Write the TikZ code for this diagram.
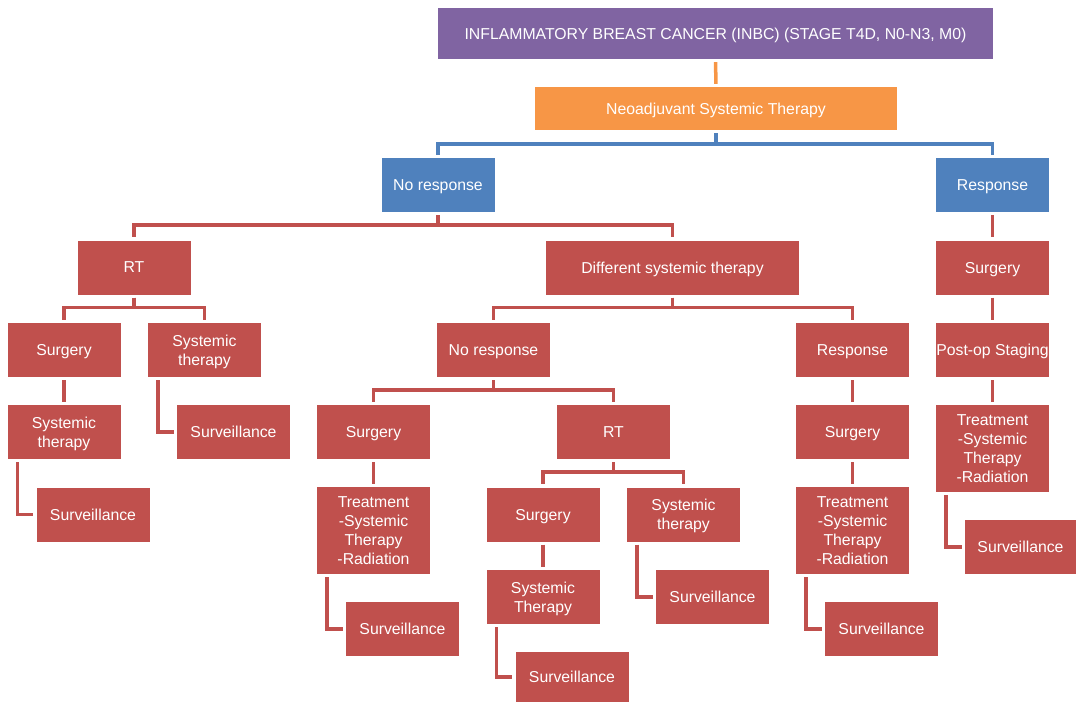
\documentclass[tikz,border=0pt]{standalone}
\usepackage{fontspec}
\setmainfont{Liberation Sans}
\definecolor{boxred}{HTML}{C0504D}
\definecolor{boxblue}{HTML}{4F81BD}
\definecolor{boxorange}{HTML}{F79646}
\definecolor{boxpurple}{HTML}{8064A2}
\tikzset{
  box/.style={fill=boxred, text=white, minimum width=113pt, minimum height=54pt,
    inner xsep=0pt, inner ysep=2pt, text depth=0pt, align=center,
    font=\fontsize{15.8}{19}\selectfont},
  tallbox/.style={box, minimum height=87pt},
  link/.style={line width=3.5pt, draw=boxred, shorten <=3pt, shorten >=3pt},
}
\begin{document}
\begin{tikzpicture}[x=1pt,y=-1pt]
\useasboundingbox (0,0) rectangle (1076,702);
% top of the tree
\node[box, fill=boxpurple, minimum width=555pt, minimum height=51pt] (inbc) at (715.5,33.5) {INFLAMMATORY BREAST CANCER (INBC) (STAGE T4D, N0-N3, M0)};
\node[box, fill=boxorange, minimum width=362pt, minimum height=43pt] (nst) at (716,108.5) {Neoadjuvant Systemic Therapy};
\node[box, fill=boxblue] (nores) at (438,185) {No response};
\node[box, fill=boxblue] (res) at (992.5,185) {Response};
\draw[link, draw=boxorange] (inbc.south) -- (nst.north);
\draw[link, draw=boxblue] (nst.south) -- ++(0,14) -| (nores.north);
\draw[link, draw=boxblue] (nst.south) -- ++(0,14) -| (res.north);
% no response branch
\node[box] (rt) at (134,267.5) {RT};
\node[box, minimum width=253pt] (dst) at (672.5,267.5) {Different systemic therapy};
\draw[link] (nores.south) -- ++(0,13) -| (rt.north);
\draw[link] (nores.south) -- ++(0,13) -| (dst.north);
% after RT
\node[box] (surga) at (64,350) {Surgery};
\node[box] (systa) at (204.5,350) {Systemic\\therapy};
\node[box] (systb) at (64,432) {Systemic\\therapy};
\node[box] (survb) at (233.5,432) {Surveillance};
\node[box] (surva) at (93,514.5) {Surveillance};
\draw[link] (rt.south) -- ++(0,13) -| (surga.north);
\draw[link] (rt.south) -- ++(0,13) -| (systa.north);
\draw[link] (surga) -- (systb);
\draw[link] ([xshift=10pt]systb.south west) |- (surva.west);
\draw[link] ([xshift=10pt]systa.south west) |- (survb.west);
% after different systemic therapy
\node[box] (nresb) at (493.5,350) {No response};
\node[box] (resb) at (852.5,350) {Response};
\draw[link] (dst.south) -- ++(0,13) -| (nresb.north);
\draw[link] (dst.south) -- ++(0,13) -| (resb.north);
\node[box] (surgc) at (373.5,432) {Surgery};
\node[box] (rtc) at (613.5,432) {RT};
\draw[link] (nresb.south) -- ++(0,13) -| (surgc.north);
\draw[link] (nresb.south) -- ++(0,13) -| (rtc.north);
\node[tallbox] (treatc) at (373.5,530.5) {Treatment\\-Systemic\\Therapy\\-Radiation};
\node[box] (survc) at (402.5,629) {Surveillance};
\draw[link] (surgc) -- (treatc);
\draw[link] ([xshift=10pt]treatc.south west) |- (survc.west);
\node[box] (surgd) at (543,514.5) {Surgery};
\node[box] (systd) at (683.5,514.5) {Systemic\\therapy};
\draw[link] (rtc.south) -- ++(0,13) -| (surgd.north);
\draw[link] (rtc.south) -- ++(0,13) -| (systd.north);
\node[box] (syste) at (543,597) {Systemic\\Therapy};
\node[box, minimum height=50pt] (surve) at (572,677) {Surveillance};
\node[box] (survd) at (712.5,597) {Surveillance};
\draw[link] (surgd) -- (syste);
\draw[link] ([xshift=10pt]syste.south west) |- (surve.west);
\draw[link] ([xshift=10pt]systd.south west) |- (survd.west);
\node[box] (surgf) at (852.5,432) {Surgery};
\node[tallbox] (treatf) at (852.5,530.5) {Treatment\\-Systemic\\Therapy\\-Radiation};
\node[box] (survf) at (881.5,629) {Surveillance};
\draw[link] (resb) -- (surgf);
\draw[link] (surgf) -- (treatf);
\draw[link] ([xshift=10pt]treatf.south west) |- (survf.west);
% response branch
\node[box] (surgg) at (992.5,267.5) {Surgery};
\node[box] (postop) at (992.5,350) {Post-op Staging};
\node[tallbox] (treatg) at (992.5,448.5) {Treatment\\-Systemic\\Therapy\\-Radiation};
\node[box, minimum width=111pt] (survg) at (1020.5,547) {Surveillance};
\draw[link] (res) -- (surgg);
\draw[link] (surgg) -- (postop);
\draw[link] (postop) -- (treatg);
\draw[link] ([xshift=10pt]treatg.south west) |- (survg.west);
\end{tikzpicture}
\end{document}
